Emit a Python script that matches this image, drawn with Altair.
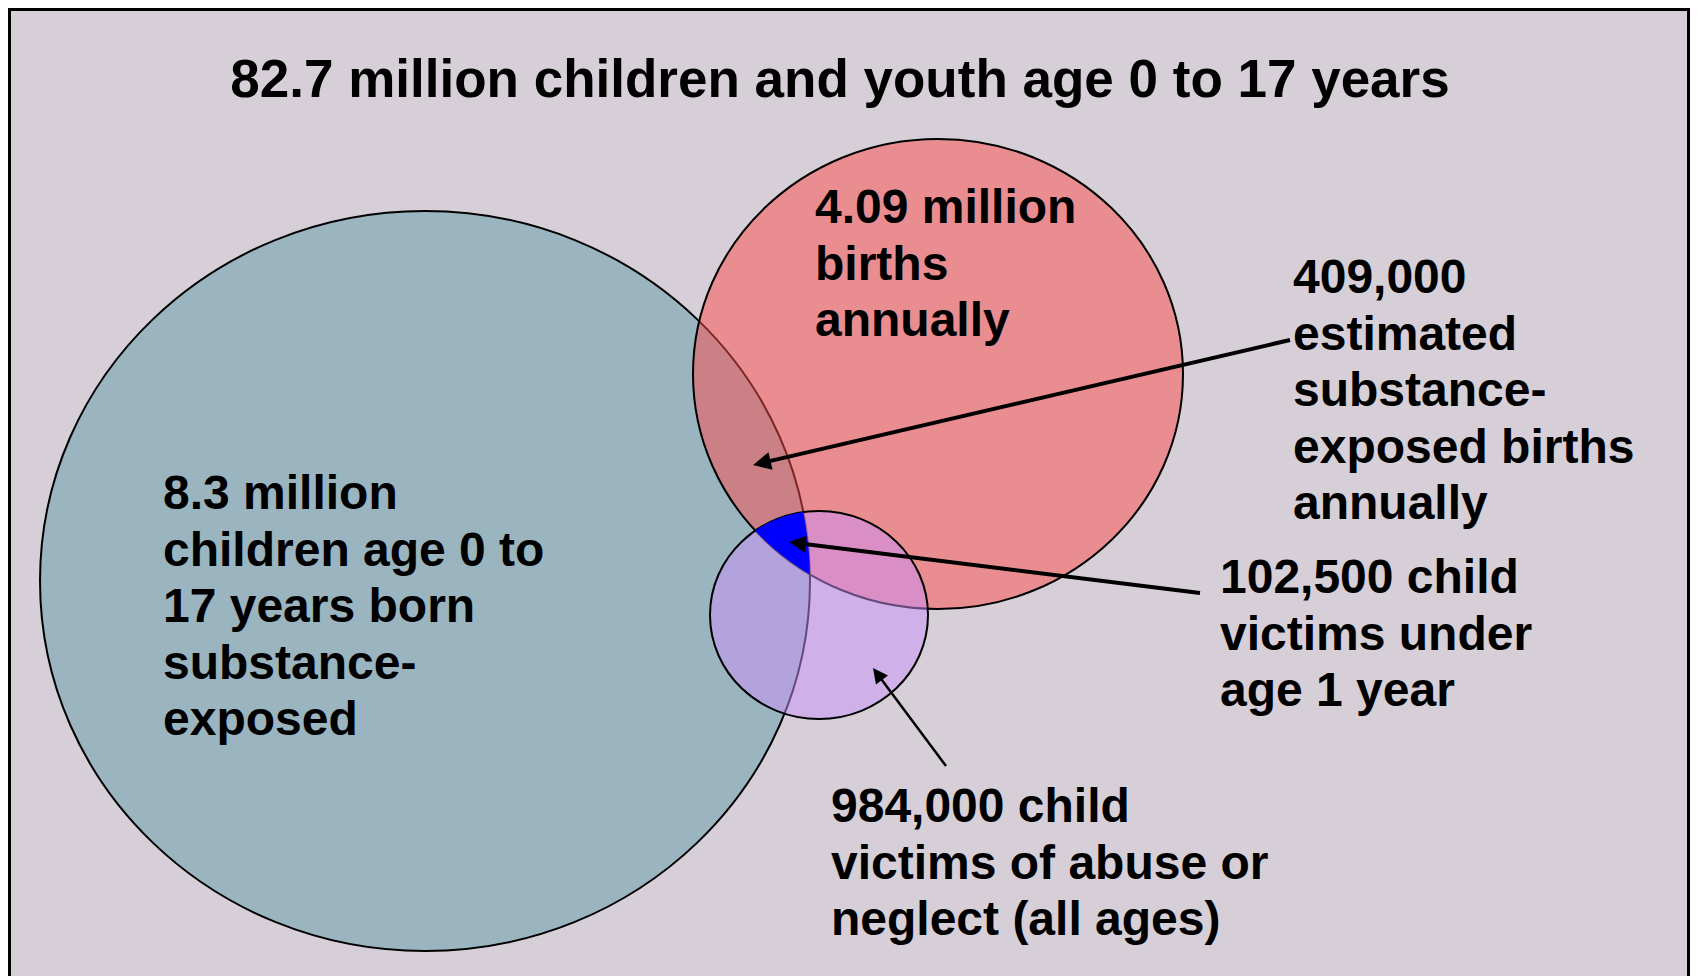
import altair as alt
import pandas as pd
import numpy as np

# ---------------- data ----------------
title_text = "82.7 million children and youth age 0 to 17 years"

circle_names = ["8.3 million substance-exposed", "4.09 million births", "984,000 victims"]
circle_cx = [425, 938, 819]
circle_cy = [581, 374, 615]
circle_rx = [385, 245, 109]
circle_ry = [370, 235, 104]

label_lines = [
    ["8.3 million", "children age 0 to", "17 years born", "substance-", "exposed"],
    ["4.09 million", "births", "annually"],
    ["409,000", "estimated", "substance-", "exposed births", "annually"],
    ["102,500 child", "victims under", "age 1 year"],
    ["984,000 child", "victims of abuse or", "neglect (all ages)"],
]
label_x = [163, 815, 1293, 1220, 831]
label_y = [509, 223, 293, 593, 822]

arrow_x0 = [1290, 1200, 946]
arrow_y0 = [340, 593, 766]
arrow_x1 = [753, 789, 873]
arrow_y1 = [465, 542, 668]

# ---------------- styles ----------------
circle_fill = ["#9ab5c0", "#fc4c4c", "#ca91f9"]
circle_fill_opacity = [1.0, 0.5, 0.5]
arrow_width = [4, 4, 2.5]
arrow_head = [18, 17, 15]
line_h = 56.5
FONT = "Liberation Sans"

W, H = 1682, 968
X0, Y0 = 8, 8
xs = alt.Scale(domain=[X0, X0 + W], nice=False, zero=False)
ys = alt.Scale(domain=[Y0, Y0 + H], nice=False, zero=False, reverse=True)


def X(f):
    return alt.X(f, type="quantitative", scale=xs, axis=None)


def Y(f):
    return alt.Y(f, type="quantitative", scale=ys, axis=None)


# frame
frame_df = pd.DataFrame({"x": [9.5], "x2": [1688.5], "y": [9.5], "y2": [1200]})
frame = alt.Chart(frame_df).mark_rect(
    fill="#d6cfd7", stroke="black", strokeWidth=3, clip=True
).encode(x=X("x"), x2="x2", y=Y("y"), y2="y2")

# circles / ellipses as custom symbol paths
def ellipse_path(rx, ry):
    k = ry / rx
    c = 0.5523
    return (
        f"M1,0C1,{c*k:.4f},{c:.4f},{k:.4f},0,{k:.4f}"
        f"C{-c:.4f},{k:.4f},-1,{c*k:.4f},-1,0"
        f"C-1,{-c*k:.4f},{-c:.4f},{-k:.4f},0,{-k:.4f}"
        f"C{c:.4f},{-k:.4f},1,{-c*k:.4f},1,0Z"
    )

circle_layers = []
for i in range(3):
    df = pd.DataFrame({"name": [circle_names[i]], "x": [circle_cx[i]], "y": [circle_cy[i]]})
    circle_layers.append(
        alt.Chart(df).mark_point(
            shape=ellipse_path(circle_rx[i], circle_ry[i]),
            filled=True,
            fill=circle_fill[i],
            fillOpacity=circle_fill_opacity[i],
            stroke="black",
            strokeWidth=2,
            strokeOpacity=1,
            opacity=1,
        ).encode(x=X("x"), y=Y("y"), size=alt.value((2 * circle_rx[i]) ** 2))
    )

# triple intersection (blue)
cx = np.array(circle_cx, float); cy = np.array(circle_cy, float)
rx = np.array(circle_rx, float); ry = np.array(circle_ry, float)
xlo = np.max(cx - rx); xhi = np.min(cx + rx)
t = np.linspace(0, 1, 1500)
xx = xlo + (xhi - xlo) * t
tops = []; bots = []; ins = []
for i in range(3):
    d = (xx - cx[i]) / rx[i]
    h = ry[i] * np.sqrt(np.clip(1 - d ** 2, 0, None))
    tops.append(cy[i] - h); bots.append(cy[i] + h); ins.append(np.abs(d) <= 1)
top = np.max(tops, axis=0); bot = np.min(bots, axis=0)
ok = np.all(ins, axis=0) & (top < bot)
blue_df = pd.DataFrame({"x": xx[ok], "y": top[ok], "y2": bot[ok]})
blue = alt.Chart(blue_df).mark_area(color="#0000ff", opacity=1, interpolate="linear").encode(
    x=X("x"), y=Y("y"), y2="y2"
)

# arrows
ax0 = np.array(arrow_x0, float); ay0 = np.array(arrow_y0, float)
ax1 = np.array(arrow_x1, float); ay1 = np.array(arrow_y1, float)
dx = ax1 - ax0; dy = ay1 - ay0
L = np.hypot(dx, dy)
hl = np.array(arrow_head, float)
ang = (np.degrees(np.arctan2(dx, -dy)) + 360) % 360
arr_df = pd.DataFrame({
    "x": ax0, "y": ay0,
    "x2": ax1 - dx / L * hl * 0.7, "y2": ay1 - dy / L * hl * 0.7,
    "tx": ax1, "ty": ay1,
    "w": arrow_width, "angle": ang, "size": (2 * hl) ** 2,
})
arrow_lines = alt.Chart(arr_df).mark_rule(color="black", strokeCap="butt").encode(
    x=X("x"), y=Y("y"), x2="x2", y2="y2",
    strokeWidth=alt.StrokeWidth("w:Q", scale=None, legend=None),
)
arrow_heads = alt.Chart(arr_df).mark_point(
    shape="M0,0L-0.5,1L0.5,1Z", filled=True, fill="black", opacity=1, strokeWidth=0
).encode(
    x=X("tx"), y=Y("ty"),
    size=alt.Size("size:Q", scale=None, legend=None),
    angle=alt.Angle("angle:Q", scale=None, legend=None),
)

# labels
rows = []
for lines, lx, ly in zip(label_lines, label_x, label_y):
    for j, s in enumerate(lines):
        rows.append({"x": lx, "y": ly + j * line_h, "text": s})
lab_df = pd.DataFrame(rows)
labels = alt.Chart(lab_df).mark_text(
    align="left", baseline="alphabetic", font=FONT, fontWeight="bold", fontSize=48, color="black"
).encode(x=X("x"), y=Y("y"), text="text:N")

title_df = pd.DataFrame({"x": [840], "y": [97], "text": [title_text]})
title = alt.Chart(title_df).mark_text(
    align="center", baseline="alphabetic", font=FONT, fontWeight="bold", fontSize=53, color="black"
).encode(x=X("x"), y=Y("y"), text="text:N")

chart = alt.layer(
    frame, *circle_layers, blue, arrow_lines, arrow_heads, labels, title
).properties(
    width=W, height=H, padding=0, autosize=alt.AutoSizeParams(type="none"), background="white"
).configure_view(strokeWidth=0)

chart.save("out.html", embed_options={"renderer": "svg", "actions": False})
